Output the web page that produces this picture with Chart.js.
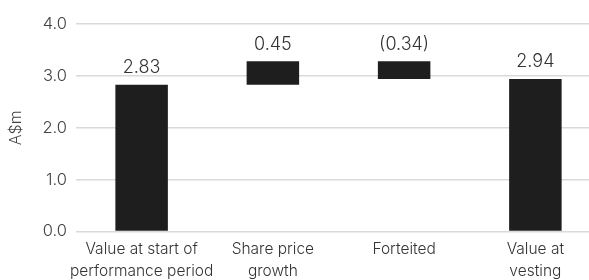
<!DOCTYPE html>
<html>
<head>
<meta charset="utf-8">
<script src="https://cdn.jsdelivr.net/npm/chart.js@4"></script>
<style>
  html, body { margin: 0; padding: 0; background: #fff; overflow: hidden; }
  #wrap { width: 604px; height: 280px; }
</style>
</head>
<body>
<div id="wrap"><canvas id="chart" width="604" height="280"></canvas></div>
<script>
const categories = [
  ['Value at start of', 'performance period'],
  ['Share price', 'growth'],
  ['Forteited'],
  ['Value at', 'vesting']
];
// movement of each step; first and last are totals
const changes = [2.83, 0.45, -0.34, 2.94];
const isTotal = [true, false, false, true];
const yTicks = [0, 1, 2, 3, 4];

// build floating bars
let running = 0;
const floating = changes.map((v, i) => {
  if (isTotal[i]) { running = v; return [0, v]; }
  const start = running;
  running = +(running + v).toFixed(2);
  return [start, running];
});

const fontFamily = "Inter, 'Liberation Sans', sans-serif";

const valueLabels = {
  id: 'valueLabels',
  afterDatasetsDraw(chart) {
    const ctx = chart.ctx;
    const meta = chart.getDatasetMeta(0);
    const yScale = chart.scales.y;
    ctx.save();
    ctx.font = '300 18px ' + fontFamily;
    ctx.fillStyle = '#333';
    ctx.textAlign = 'center';
    ctx.textBaseline = 'bottom';
    meta.data.forEach((bar, i) => {
      const top = Math.min(yScale.getPixelForValue(floating[i][0]), yScale.getPixelForValue(floating[i][1]));
      const v = changes[i];
      const txt = v < 0 ? '(' + Math.abs(v).toFixed(2) + ')' : v.toFixed(2);
      ctx.fillText(txt, bar.x, top - 8);
    });
    ctx.restore();
  }
};

new Chart(document.getElementById('chart'), {
  type: 'bar',
  data: {
    labels: categories,
    datasets: [{
      data: floating,
      backgroundColor: '#1e1e1e',
      borderWidth: 0,
      borderSkipped: false,
      barPercentage: 0.4,
      categoryPercentage: 1.0
    }]
  },
  options: {
    responsive: false,
    animation: false,
    layout: { padding: { top: 24, right: 3, left: 0, bottom: 0 } },
    plugins: {
      legend: { display: false },
      tooltip: { enabled: false }
    },
    scales: {
      x: {
        grid: { display: false, drawTicks: false },
        border: { display: false },
        ticks: {
          color: '#333',
          font: { family: fontFamily, size: 15.5, weight: 300, lineHeight: 1.4 },
          padding: 7,
          maxRotation: 0,
          autoSkip: false
        },
        afterFit(scale) { scale.height = 48.5; }
      },
      y: {
        min: 0,
        max: 4,
        afterBuildTicks(scale) { scale.ticks = yTicks.map(v => ({ value: v })); },
        grid: { color: '#d9d9d9', lineWidth: 1.5, drawTicks: false },
        border: { display: false },
        ticks: {
          color: '#444',
          font: { family: fontFamily, size: 16.5, weight: 300 },
          padding: 9,
          callback: v => v.toFixed(1)
        },
        title: {
          display: true,
          text: 'A$m',
          color: '#444',
          font: { family: fontFamily, size: 16, weight: 300 },
          padding: { top: 7, bottom: 0 }
        },
        afterFit(scale) { scale.width = 76; }
      }
    }
  },
  plugins: [valueLabels]
});
</script>
</body>
</html>
